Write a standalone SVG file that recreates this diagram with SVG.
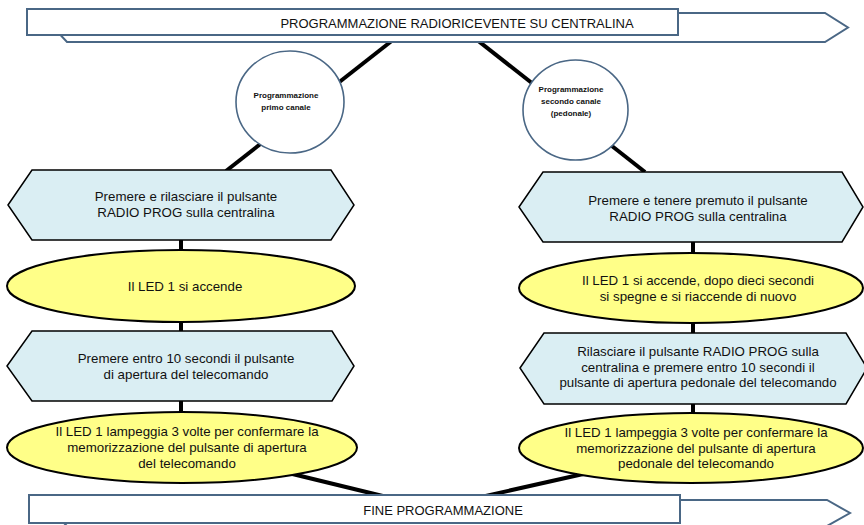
<svg xmlns="http://www.w3.org/2000/svg" width="864" height="525" viewBox="0 0 864 525">
<style>
text{font-family:"Liberation Sans",Arial,sans-serif;fill:#111;text-anchor:middle}
.main{font-size:13.3px}
.ban{font-size:13px}
.circ{font-size:8px;font-weight:bold}
.banner{fill:#fff;stroke:#4a6785;stroke-width:2}
.hex{fill:#daeef3;stroke:#000;stroke-width:1.5}
.ell{fill:#ffff88;stroke:#000;stroke-width:2}
.cir{fill:#fff;stroke:#4a6785;stroke-width:1.6}
.con{stroke:#000;stroke-width:4;fill:none}
</style>
<rect width="864" height="525" fill="#fff"/>
<g id="connectors">
<line class="con" x1="412" y1="25" x2="226" y2="171"/>
<line class="con" x1="458" y1="25" x2="645" y2="172"/>
<line class="con" x1="181" y1="240" x2="181" y2="251"/>
<line class="con" x1="181" y1="321" x2="181" y2="332"/>
<line class="con" x1="181" y1="400" x2="181" y2="413"/>
<line class="con" x1="693" y1="241" x2="693" y2="254"/>
<line class="con" x1="693" y1="322" x2="693" y2="334"/>
<line class="con" x1="693" y1="403" x2="693" y2="414"/>
<line class="con" x1="182" y1="447" x2="432" y2="508"/>
<line class="con" x1="690" y1="450" x2="432" y2="508"/>
</g>
<g id="banner-top">
<polygon class="banner" points="40,13 825,13 848,27.5 825,42 67,42"/>
<rect class="banner" x="27" y="9" width="651" height="26"/>
<text class="ban" x="457" y="28.3">PROGRAMMAZIONE RADIORICEVENTE SU CENTRALINA</text>
</g>
<g id="circle-primo">
<ellipse class="cir" cx="290" cy="102" rx="54" ry="51"/>
<text class="circ" x="286" y="98">Programmazione</text>
<text class="circ" x="286" y="110">primo canale</text>
</g>
<g id="circle-secondo">
<ellipse class="cir" cx="575.5" cy="110" rx="52.5" ry="50"/>
<text class="circ" x="571" y="92">Programmazione</text>
<text class="circ" x="571" y="104">secondo canale</text>
<text class="circ" x="571" y="115.5">(pedonale)</text>
</g>
<g id="hex-l1">
<polygon class="hex" points="8,205 32,170 331,170 354,205 331,240 32,240"/>
<text class="main" x="186" y="201">Premere e rilasciare il pulsante</text>
<text class="main" x="186" y="217">RADIO PROG sulla centralina</text>
</g>
<g id="ell-l1">
<ellipse class="ell" cx="181" cy="286" rx="174" ry="36"/>
<text class="main" x="185" y="291">Il LED 1 si accende</text>
</g>
<g id="hex-l2">
<polygon class="hex" points="7,366 32,331 332,331 354,366 332,401 32,401"/>
<text class="main" x="186" y="363">Premere entro 10 secondi il pulsante</text>
<text class="main" x="186" y="379">di apertura del telecomando</text>
</g>
<g id="ell-l2">
<ellipse class="ell" cx="182" cy="447.5" rx="175" ry="35.5"/>
<text class="main" x="187" y="436">Il LED 1 lampeggia 3 volte per confermare la</text>
<text class="main" x="187" y="452">memorizzazione del pulsante di apertura</text>
<text class="main" x="187" y="468">del telecomando</text>
</g>
<g id="hex-r1">
<polygon class="hex" points="519,207 543,172 842,172 863,207 842,242 543,242"/>
<text class="main" x="698" y="205">Premere e tenere premuto il pulsante</text>
<text class="main" x="698" y="221">RADIO PROG sulla centralina</text>
</g>
<g id="ell-r1">
<ellipse class="ell" cx="691" cy="288" rx="172" ry="35"/>
<text class="main" x="698" y="285">Il LED 1 si accende, dopo dieci secondi</text>
<text class="main" x="698" y="301">si spegne e si riaccende di nuovo</text>
</g>
<g id="hex-r2">
<polygon class="hex" points="520,368 544,333 846,333 867,368 846,404 544,404"/>
<text class="main" x="698" y="356">Rilasciare il pulsante RADIO PROG sulla</text>
<text class="main" x="698" y="371.5">centralina e premere entro 10 secondi il</text>
<text class="main" x="698" y="387">pulsante di apertura pedonale del telecomando</text>
</g>
<g id="ell-r2">
<ellipse class="ell" cx="691" cy="448" rx="172" ry="35"/>
<text class="main" x="696" y="437">Il LED 1 lampeggia 3 volte per confermare la</text>
<text class="main" x="696" y="452.5">memorizzazione del pulsante di apertura</text>
<text class="main" x="696" y="468">pedonale del telecomando</text>
</g>
<g id="banner-bottom">
<polygon class="banner" points="40,500 827,500 850,513 827,526 67,526"/>
<rect class="banner" x="29" y="495" width="651" height="28"/>
<text class="ban" x="443" y="515">FINE PROGRAMMAZIONE</text>
</g>
</svg>
